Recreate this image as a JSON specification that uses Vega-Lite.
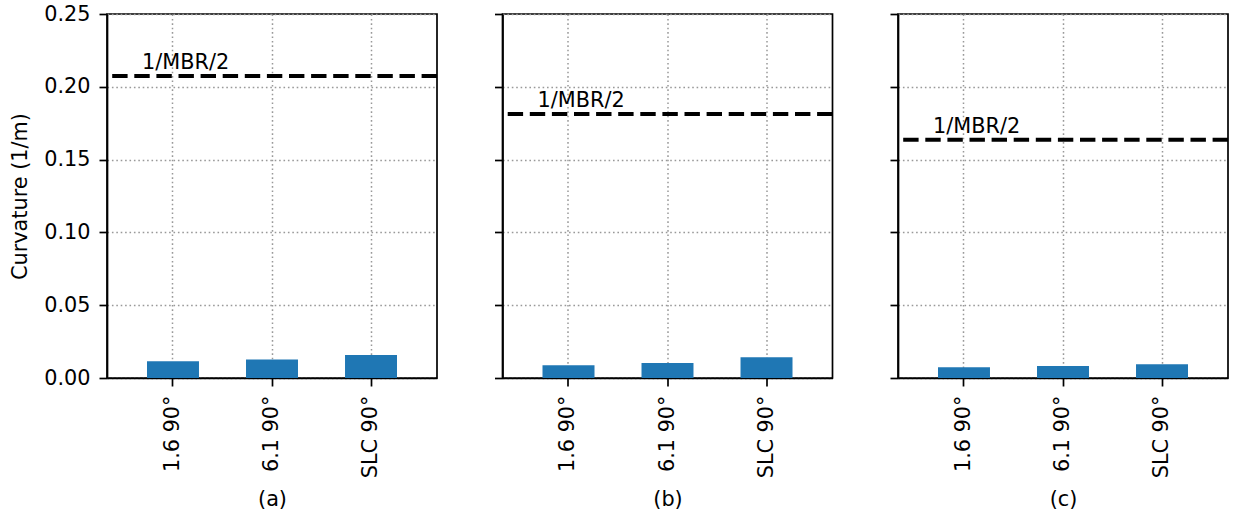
{
  "$schema": "https://vega.github.io/schema/vega-lite/v6.json",
  "background": "white",
  "padding": {"left": 8, "top": 2, "right": 4, "bottom": 4},
  "datasets": {
    "bars": [
      {"panel": "a", "config": "1.6 90°", "curvature": 0.0115},
      {"panel": "a", "config": "6.1 90°", "curvature": 0.0127},
      {"panel": "a", "config": "SLC 90°", "curvature": 0.0158},
      {"panel": "b", "config": "1.6 90°", "curvature": 0.0087},
      {"panel": "b", "config": "6.1 90°", "curvature": 0.0103},
      {"panel": "b", "config": "SLC 90°", "curvature": 0.0142},
      {"panel": "c", "config": "1.6 90°", "curvature": 0.0073},
      {"panel": "c", "config": "6.1 90°", "curvature": 0.0082},
      {"panel": "c", "config": "SLC 90°", "curvature": 0.0094}
    ],
    "limits": [
      {"panel": "a", "curvature": 0.2075, "label": "1/MBR/2"},
      {"panel": "b", "curvature": 0.1813, "label": "1/MBR/2"},
      {"panel": "c", "curvature": 0.1637, "label": "1/MBR/2"}
    ]
  },
  "spacing": 65.5,
  "bounds": "flush",
  "config": {
    "font": "DejaVu Sans",
    "view": {"stroke": "black", "strokeWidth": 1.7},
    "axis": {
      "labelFont": "DejaVu Sans",
      "titleFont": "DejaVu Sans",
      "labelFontSize": 20.8,
      "titleFontSize": 20.8,
      "titleFontWeight": "normal",
      "labelColor": "black",
      "titleColor": "black",
      "domainColor": "black",
      "domainWidth": 1.7,
      "tickColor": "black",
      "tickWidth": 1.7,
      "tickSize": 8,
      "labelPadding": 9,
      "grid": true,
      "gridColor": "#999999",
      "gridWidth": 1.5,
      "gridDash": [1.6, 2.8],
      "zindex": 1
    }
  },
  "hconcat": [
    {
      "width": 330,
      "height": 364,
      "layer": [
        {
          "data": {"name": "bars"},
          "transform": [{"filter": "datum.panel === 'a'"}],
          "mark": {"type": "bar", "color": "#1f77b4"},
          "encoding": {
            "x": {"field": "config", "type": "nominal", "sort": null,
                  "scale": {"paddingInner": 0.475, "paddingOuter": 0.404},
                  "axis": {"title": "(a)", "labelAngle": -90, "titlePadding": 12}},
            "y": {"field": "curvature", "type": "quantitative",
                  "scale": {"domain": [0, 0.25], "nice": false},
                  "axis": {"title": "Curvature (1/m)", "values": [0, 0.05, 0.1, 0.15, 0.2, 0.25], "format": ".2f", "titlePadding": 13}}
          }
        },
        {
          "data": {"name": "limits"},
          "transform": [{"filter": "datum.panel === 'a'"}],
          "mark": {"type": "rule", "color": "black", "strokeWidth": 4, "strokeDash": [15.4, 6.7]},
          "encoding": {"y": {"field": "curvature", "type": "quantitative"}}
        },
        {
          "data": {"name": "limits"},
          "transform": [{"filter": "datum.panel === 'a'"}],
          "mark": {"type": "text", "align": "left", "baseline": "alphabetic", "dx": -31, "dy": -7, "fontSize": 20.8, "color": "black"},
          "encoding": {
            "x": {"datum": "1.6 90°", "type": "nominal"},
            "y": {"field": "curvature", "type": "quantitative"},
            "text": {"field": "label"}
          }
        }
      ]
    },
    {
      "width": 330,
      "height": 364,
      "layer": [
        {
          "data": {"name": "bars"},
          "transform": [{"filter": "datum.panel === 'b'"}],
          "mark": {"type": "bar", "color": "#1f77b4"},
          "encoding": {
            "x": {"field": "config", "type": "nominal", "sort": null,
                  "scale": {"paddingInner": 0.475, "paddingOuter": 0.404},
                  "axis": {"title": "(b)", "labelAngle": -90, "titlePadding": 12}},
            "y": {"field": "curvature", "type": "quantitative",
                  "scale": {"domain": [0, 0.25], "nice": false},
                  "axis": {"title": null, "labels": false, "values": [0, 0.05, 0.1, 0.15, 0.2, 0.25]}}
          }
        },
        {
          "data": {"name": "limits"},
          "transform": [{"filter": "datum.panel === 'b'"}],
          "mark": {"type": "rule", "color": "black", "strokeWidth": 4, "strokeDash": [15.4, 6.7]},
          "encoding": {"y": {"field": "curvature", "type": "quantitative"}}
        },
        {
          "data": {"name": "limits"},
          "transform": [{"filter": "datum.panel === 'b'"}],
          "mark": {"type": "text", "align": "left", "baseline": "alphabetic", "dx": -31, "dy": -7, "fontSize": 20.8, "color": "black"},
          "encoding": {
            "x": {"datum": "1.6 90°", "type": "nominal"},
            "y": {"field": "curvature", "type": "quantitative"},
            "text": {"field": "label"}
          }
        }
      ]
    },
    {
      "width": 330,
      "height": 364,
      "layer": [
        {
          "data": {"name": "bars"},
          "transform": [{"filter": "datum.panel === 'c'"}],
          "mark": {"type": "bar", "color": "#1f77b4"},
          "encoding": {
            "x": {"field": "config", "type": "nominal", "sort": null,
                  "scale": {"paddingInner": 0.475, "paddingOuter": 0.404},
                  "axis": {"title": "(c)", "labelAngle": -90, "titlePadding": 12}},
            "y": {"field": "curvature", "type": "quantitative",
                  "scale": {"domain": [0, 0.25], "nice": false},
                  "axis": {"title": null, "labels": false, "values": [0, 0.05, 0.1, 0.15, 0.2, 0.25]}}
          }
        },
        {
          "data": {"name": "limits"},
          "transform": [{"filter": "datum.panel === 'c'"}],
          "mark": {"type": "rule", "color": "black", "strokeWidth": 4, "strokeDash": [15.4, 6.7]},
          "encoding": {"y": {"field": "curvature", "type": "quantitative"}}
        },
        {
          "data": {"name": "limits"},
          "transform": [{"filter": "datum.panel === 'c'"}],
          "mark": {"type": "text", "align": "left", "baseline": "alphabetic", "dx": -31, "dy": -7, "fontSize": 20.8, "color": "black"},
          "encoding": {
            "x": {"datum": "1.6 90°", "type": "nominal"},
            "y": {"field": "curvature", "type": "quantitative"},
            "text": {"field": "label"}
          }
        }
      ]
    }
  ]
}
